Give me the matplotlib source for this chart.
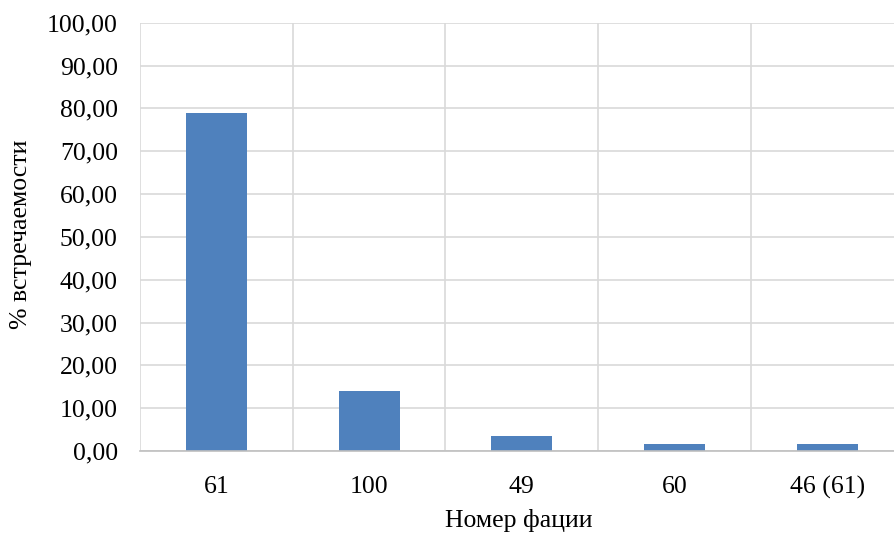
import matplotlib
matplotlib.use('Agg')
import matplotlib.pyplot as plt
from matplotlib.ticker import FuncFormatter

categories = ['61', '100', '49', '60', '46 (61)']
values = [78.95, 14.04, 3.51, 1.75, 1.75]
y_ticks = [0, 10, 20, 30, 40, 50, 60, 70, 80, 90, 100]

plt.rcParams['font.family'] = ['Liberation Serif', 'DejaVu Serif']
FS = 18.5

fig = plt.figure(figsize=(8.94, 5.36), dpi=100)
ax = fig.add_axes([140 / 894, 85 / 536, 763.5 / 894, 428.3 / 536])

x = range(len(categories))
ax.bar(x, values, width=0.4, color='#4F81BD', zorder=3)

ax.set_xlim(-0.5, len(categories) - 0.5)
ax.set_ylim(0, 100)
ax.set_yticks(y_ticks)
ax.yaxis.set_major_formatter(FuncFormatter(lambda v, p: f'{v:.2f}'.replace('.', ',')))
ax.set_xticks(list(x))
ax.set_xticklabels(categories)
ax.set_xticks([i - 0.5 for i in range(len(categories) + 1)], minor=True)

ax.grid(axis='y', which='major', color='#d9d9d9', linewidth=1.2, zorder=0)
ax.grid(axis='x', which='minor', color='#d9d9d9', linewidth=1.2, zorder=0)
ax.tick_params(which='both', length=0)
ax.tick_params(axis='y', pad=16, labelsize=FS, colors='black')
ax.tick_params(axis='x', pad=18, labelsize=FS)

for s in ['top', 'right', 'left']:
    ax.spines[s].set_visible(False)
ax.spines['bottom'].set_color('#bfbfbf')
ax.spines['bottom'].set_linewidth(1.2)
ax.spines['bottom'].set_zorder(4)

ax.set_xlabel('Номер фации', fontsize=FS)
ax.set_ylabel('% встречаемости', fontsize=FS)
ax.xaxis.set_label_coords(0.496, -0.136)
ax.yaxis.set_label_coords(-0.142, 0.507)

fig.savefig('out.png', dpi=100)
